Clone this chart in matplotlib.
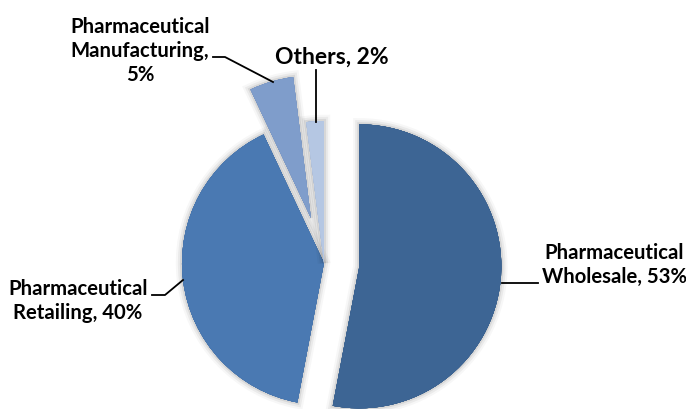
import matplotlib
matplotlib.use("Agg")
import matplotlib.pyplot as plt
import matplotlib.patheffects as pe

labels = ["Pharmaceutical\nWholesale, 53%", "Pharmaceutical\nRetailing, 40%",
          "Pharmaceutical\nManufacturing,\n5%", "Others, 2%"]
values = [53, 40, 5, 2]
colors = ["#3D6594", "#4A79B2", "#7F9DCB", "#B5C7E3"]

W, H = 686, 409
r = 142
explode = [0.25 * r, 0.0, 0.33 * r, 0.0]

fig = plt.figure(figsize=(W / 100, H / 100), dpi=100)
ax = fig.add_axes([0, 0, 1, 1])

cx, cy = 324, H - 263
wedges, _ = ax.pie(values, colors=colors, explode=explode, startangle=90,
                   counterclock=False, radius=r, center=(cx, cy), frame=True,
                   wedgeprops=dict(linewidth=0))
ax.set_xlim(0, W)
ax.set_ylim(0, H)
ax.set_aspect("equal")
ax.axis("off")

shadow = [pe.withStroke(linewidth=9, foreground=(0, 0, 0, 0.03)),
          pe.withStroke(linewidth=6, foreground=(0, 0, 0, 0.05)),
          pe.withStroke(linewidth=3, foreground=(0, 0, 0, 0.08)),
          pe.Normal()]
for w in wedges:
    w.set_path_effects(shadow)

font = dict(family="Lato", weight="bold", color="#000000")

def y(v):
    return H - v

fs = 14.6
ax.text(614, y(265), labels[0], ha="center", va="center", fontsize=fs,
        linespacing=1.25, **font)
ax.plot([502, 538], [y(283), y(283)], color="black", lw=1.3)

ax.text(78, y(301), labels[1], ha="center", va="center", fontsize=fs,
        linespacing=1.25, **font)
ax.plot([152, 165, 183], [y(295), y(295), y(280)], color="black", lw=1.3)

ax.text(140, y(51), labels[2], ha="center", va="center", fontsize=fs,
        linespacing=1.25, **font)
ax.plot([213, 225, 273], [y(57), y(57), y(82)], color="black", lw=1.3)

ax.text(332, y(57), labels[3], ha="center", va="center", fontsize=16.5, **font)
ax.plot([316, 316], [y(70), y(122)], color="black", lw=1.3)

fig.savefig("out.png", dpi=100)
